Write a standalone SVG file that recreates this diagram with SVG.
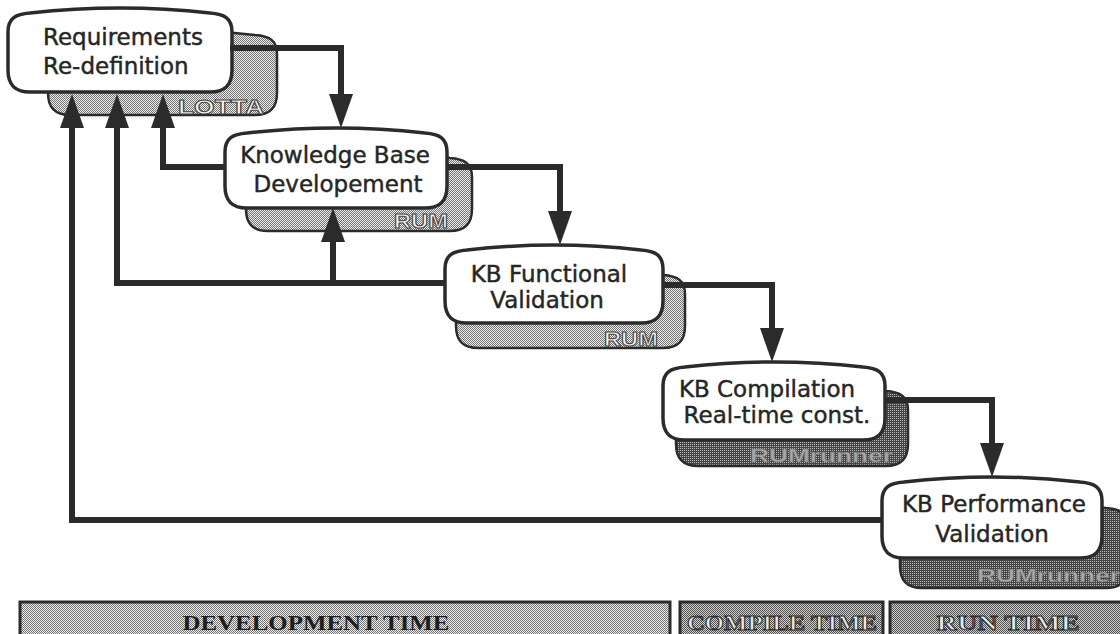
<svg xmlns="http://www.w3.org/2000/svg" width="1120" height="634" viewBox="0 0 1120 634">
<defs>
<pattern id="dotL" width="2" height="2" patternUnits="userSpaceOnUse"><rect width="2" height="2" fill="#ededed"/><rect width="1" height="1" fill="#747474"/><rect x="1" y="1" width="1" height="1" fill="#747474"/></pattern>
<pattern id="dotD" width="2" height="2" patternUnits="userSpaceOnUse"><rect width="2" height="2" fill="#454545"/><rect width="1" height="1" fill="#b8b8b8"/></pattern>
<pattern id="dotM" width="2" height="2" patternUnits="userSpaceOnUse"><rect width="2" height="2" fill="#d0d0d0"/><rect width="1" height="1" fill="#505050"/><rect x="1" y="1" width="1" height="1" fill="#505050"/></pattern>
<marker id="ah" markerUnits="userSpaceOnUse" markerWidth="34" markerHeight="24" viewBox="0 0 34 24" refX="2" refY="12" orient="auto"><path d="M0,0 L34,12 L0,24 Z" fill="#2b2b2b"/></marker>
</defs>
<style>
.box{fill:#fff;stroke:#2b2b2b;stroke-width:3.5;stroke-linejoin:round}
.shL{fill:url(#dotL);stroke:#2b2b2b;stroke-width:2.5}
.shD{fill:url(#dotD);stroke:#2b2b2b;stroke-width:2.5}
.t{font-family:"DejaVu Sans",sans-serif;font-size:23px;fill:#262626;stroke:#262626;stroke-width:0.45}
.st{font-family:"Liberation Sans",Arial,sans-serif;font-weight:bold;font-size:20px;fill:#f4f4f4;stroke:#444;stroke-width:1}
.sd{font-family:"Liberation Sans",Arial,sans-serif;font-weight:bold;font-size:19px;fill:#a8a8a8;stroke:#666;stroke-width:0.5}
.c{fill:none;stroke:#2b2b2b;stroke-width:6;stroke-linejoin:miter;marker-end:url(#ah)}
.bar{stroke:#2b2b2b;stroke-width:3}
.bt{font-family:"Liberation Serif","Times New Roman",serif;font-weight:bold;font-size:22px}
</style>
<rect width="1120" height="634" fill="#fff"/>

<g id="n1">
<path class="shL" transform="translate(48,30)" d="M0,24 C0,10 8,6 22,5 Q114.5,-5 207,5 C221,6 229,10 229,24 L229,63 C229,79 221,85 207,85 L22,85 C8,85 0,79 0,63 Z"/>
<text class="st" x="178" y="114" textLength="86" lengthAdjust="spacingAndGlyphs">LOTTA</text>
<path class="box" transform="translate(8,8)" d="M0,24 C0,10 8,6 22,5 Q112,-5 202,5 C216,6 224,10 224,24 L224,62 C224,78 216,84 202,84 L22,84 C8,84 0,78 0,62 Z"/>
<text class="t" x="43" y="45">Requirements</text>
<text class="t" x="43" y="74">Re-definition</text>
</g>

<g id="n2">
<path class="shL" transform="translate(246,153)" d="M0,24 C0,10 8,6 22,5 Q113,-5 204,5 C218,6 226,10 226,24 L226,56 C226,72 218,78 204,78 L22,78 C8,78 0,72 0,56 Z"/>
<text class="st" x="394" y="228" textLength="54" lengthAdjust="spacingAndGlyphs">RUM</text>
<path class="box" transform="translate(225,128)" d="M0,24 C0,10 8,6 22,5 Q111,-5 200,5 C214,6 222,10 222,24 L222,58 C222,74 214,80 200,80 L22,80 C8,80 0,74 0,58 Z"/>
<text class="t" x="335" y="163" text-anchor="middle">Knowledge Base</text>
<text class="t" x="338" y="192" text-anchor="middle">Developement</text>
</g>

<g id="n3">
<path class="shL" transform="translate(456,270)" d="M0,24 C0,10 8,6 22,5 Q114.5,-5 207,5 C221,6 229,10 229,24 L229,56 C229,72 221,78 207,78 L22,78 C8,78 0,72 0,56 Z"/>
<text class="st" x="604" y="346" textLength="54" lengthAdjust="spacingAndGlyphs">RUM</text>
<path class="box" transform="translate(445,245)" d="M0,24 C0,10 8,6 22,5 Q109,-5 196,5 C210,6 218,10 218,24 L218,56 C218,72 210,78 196,78 L22,78 C8,78 0,72 0,56 Z"/>
<text class="t" x="549" y="282" text-anchor="middle">KB Functional</text>
<text class="t" x="547" y="308" text-anchor="middle">Validation</text>
</g>

<g id="n4">
<path class="shD" transform="translate(676,386)" d="M0,24 C0,10 8,6 22,5 Q116,-5 210,5 C224,6 232,10 232,24 L232,58 C232,74 224,80 210,80 L22,80 C8,80 0,74 0,58 Z"/>
<text class="sd" x="750" y="462" textLength="143" lengthAdjust="spacingAndGlyphs">RUMrunner</text>
<path class="box" transform="translate(663,362)" d="M0,24 C0,10 8,6 22,5 Q111,-5 200,5 C214,6 222,10 222,24 L222,56 C222,72 214,78 200,78 L22,78 C8,78 0,72 0,56 Z"/>
<text class="t" x="767" y="397" text-anchor="middle">KB Compilation</text>
<text class="t" x="777" y="423" text-anchor="middle">Real-time const.</text>
</g>

<g id="n5">
<path class="shD" transform="translate(900,503)" d="M0,24 C0,10 8,6 22,5 Q114,-5 206,5 C220,6 228,10 228,24 L228,63 C228,79 220,85 206,85 L22,85 C8,85 0,79 0,63 Z"/>
<text class="sd" x="977" y="582" textLength="143" lengthAdjust="spacingAndGlyphs">RUMrunner</text>
<path class="box" transform="translate(882,477)" d="M0,24 C0,10 8,6 22,5 Q110,-5 198,5 C212,6 220,10 220,24 L220,59 C220,75 212,81 198,81 L22,81 C8,81 0,75 0,59 Z"/>
<text class="t" x="994" y="512" text-anchor="middle">KB Performance</text>
<text class="t" x="992" y="542" text-anchor="middle">Validation</text>
</g>

<g id="connectors">
<path class="c" d="M230,48 H341 V96"/>
<path class="c" d="M447,167 H560 V213"/>
<path class="c" d="M663,285 H772 V330"/>
<path class="c" d="M885,400 H992 V445"/>
<path class="c" d="M225,167 H163 V126"/>
<path class="c" d="M445,283 H117 V126"/>
<path class="c" d="M333,283 V240"/>
<path class="c" d="M882,520 H72 V126"/>
</g>

<g id="timeline">
<rect class="bar" x="20" y="602" width="650" height="40" fill="url(#dotL)"/>
<rect class="bar" x="680" y="602" width="203" height="40" fill="url(#dotM)"/>
<rect class="bar" x="890" y="602" width="240" height="40" fill="url(#dotM)"/>
<text class="bt" x="316" y="630" text-anchor="middle" textLength="267" lengthAdjust="spacingAndGlyphs" fill="#1e1e1e">DEVELOPMENT  TIME</text>
<text class="bt" x="782" y="630" text-anchor="middle" textLength="190" lengthAdjust="spacingAndGlyphs" fill="#e8e8e8" stroke="#2b2b2b" stroke-width="1">COMPILE  TIME</text>
<text class="bt" x="1008" y="630" text-anchor="middle" textLength="143" lengthAdjust="spacingAndGlyphs" fill="#e8e8e8" stroke="#2b2b2b" stroke-width="1">RUN  TIME</text>
</g>
</svg>
